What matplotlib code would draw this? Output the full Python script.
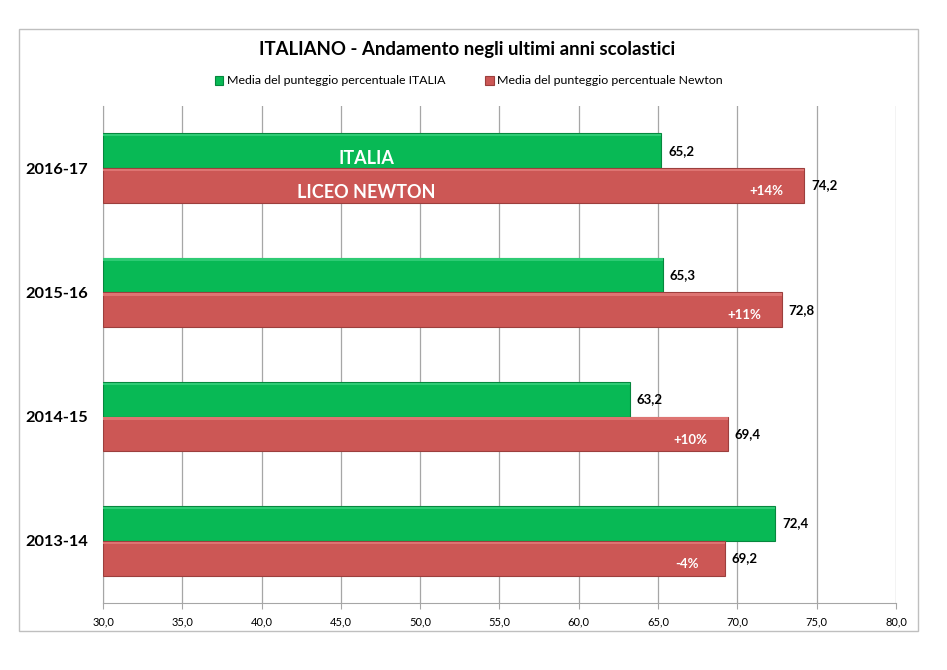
import matplotlib.pyplot as plt
from matplotlib.patches import Rectangle

plt.rcParams['font.family'] = ['Lato', 'DejaVu Sans']

# dati
anni = ["2013-14", "2014-15", "2015-16", "2016-17"]
italia = [72.4, 63.2, 65.3, 65.2]
newton = [69.2, 69.4, 72.8, 74.2]
differenza = ["-4%", "+10%", "+11%", "+14%"]
xticks = [30, 35, 40, 45, 50, 55, 60, 65, 70, 75, 80]

verde = "#08B955"
rosso = "#CC5755"

fig = plt.figure(figsize=(9.47, 6.70), dpi=100)
ax = fig.add_axes([0.1088, 0.1, 0.8373, 0.7418])

# cornice esterna del grafico
fig.patches.append(Rectangle((19 / 947, 1 - 631 / 670), 899 / 947, 602 / 670,
                             transform=fig.transFigure, fill=False,
                             edgecolor="#BFBFBF", linewidth=1.0))

h = 0.28
y = list(range(len(anni)))
y_it = [i + h / 2 for i in y]
y_nw = [i - h / 2 for i in y]
b1 = ax.barh(y_it, [v - 30 for v in italia], left=30, height=h, color=verde,
             edgecolor="#06873E", linewidth=0.8, label="Media del punteggio percentuale ITALIA", zorder=3)
b2 = ax.barh(y_nw, [v - 30 for v in newton], left=30, height=h, color=rosso,
             edgecolor="#9C3F3D", linewidth=0.8, label="Media del punteggio percentuale Newton", zorder=3)

# riflesso chiaro in alto sulle barre
for bars, c in ((b1, "#2ECB74"), (b2, "#DE7472")):
    for r in bars:
        ax.add_patch(Rectangle((r.get_x(), r.get_y() + r.get_height() * 0.91), r.get_width(),
                               r.get_height() * 0.07, color=c, linewidth=0, zorder=4))

for i in y:
    ax.annotate(f"{italia[i]:.1f}".replace(".", ","), (italia[i], y_it[i]), xytext=(5, 0),
                textcoords="offset points", va="center", ha="left",
                fontsize=9.5, fontweight="bold", color="black")
    ax.annotate(f"{newton[i]:.1f}".replace(".", ","), (newton[i], y_nw[i]), xytext=(5, 0),
                textcoords="offset points", va="center", ha="left",
                fontsize=9.5, fontweight="bold", color="black")
    ax.annotate(differenza[i], (newton[i], y_nw[i]), xytext=(-27, -4),
                textcoords="offset points", va="center", ha="center",
                fontsize=9.5, fontweight="bold", color="white", zorder=5)

ax.text(46.6, y_it[3] - 0.065, "ITALIA", ha="center", va="center",
        fontsize=13, fontweight="bold", color="white", zorder=5)
ax.text(46.6, y_nw[3] - 0.06, "LICEO NEWTON", ha="center", va="center",
        fontsize=13, fontweight="bold", color="white", zorder=5)

ax.set_xlim(30, 80)
ax.set_ylim(-0.5, 3.5)
ax.set_xticks(xticks)
ax.set_xticklabels([f"{t:.1f}".replace(".", ",") for t in xticks], fontsize=8)
ax.set_yticks(y)
ax.set_yticklabels(anni, fontsize=11.8, fontweight="bold")
ax.tick_params(axis="y", length=0, pad=11)
ax.tick_params(axis="x", length=4, color="#A6A6A6", pad=6)
ax.grid(axis="x", color="#A6A6A6", linewidth=0.9, zorder=0)
ax.set_axisbelow(True)
for s in ("top", "right"):
    ax.spines[s].set_visible(False)
for s in ("left", "bottom"):
    ax.spines[s].set_color("#A6A6A6")

fig.text(0.493, 1 - 50 / 670, "ITALIANO - Andamento negli ultimi anni scolastici",
         ha="center", va="center", fontsize=13.4, fontweight="bold")
fig.legend(handles=[b1, b2], loc="center", bbox_to_anchor=(0.495, 1 - 81 / 670), ncol=2,
           frameon=False, fontsize=8.9, handlelength=0.7, handleheight=0.7,
           handletextpad=0.3, columnspacing=3.2)

fig.savefig("out.png", dpi=100)
